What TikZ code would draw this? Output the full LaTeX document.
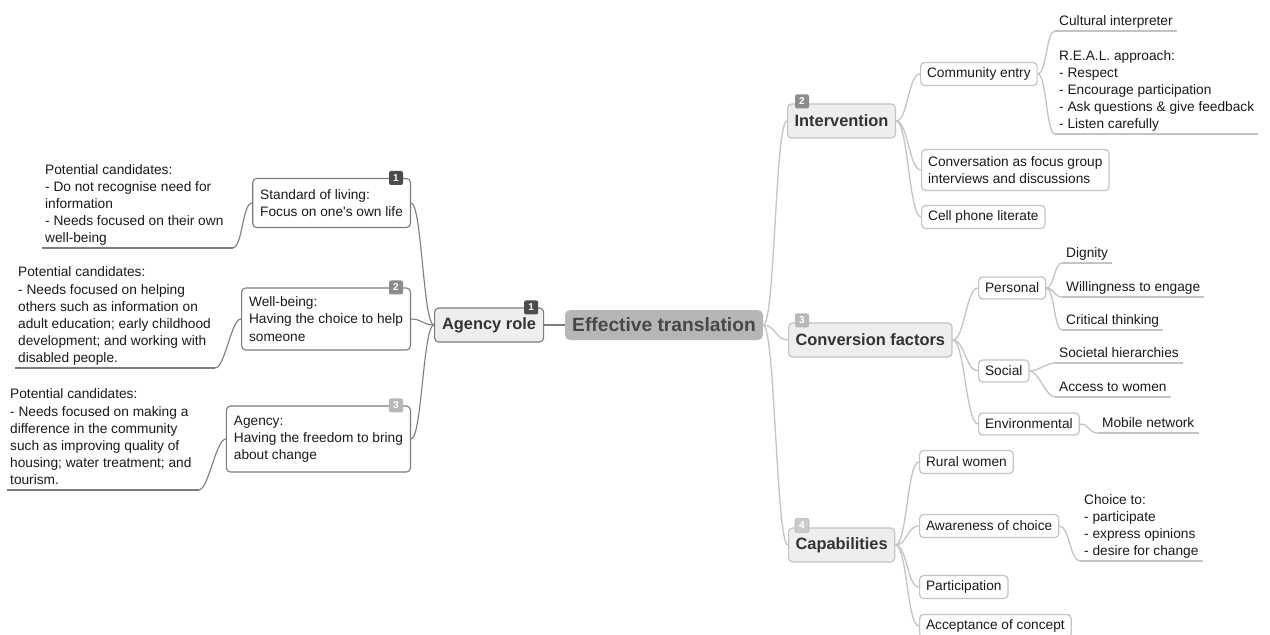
\documentclass[tikz,border=0pt]{standalone}
\usepackage{fontspec}
\setmainfont{Liberation Sans}
\usetikzlibrary{calc}
\definecolor{txt}{HTML}{1A1A1A}
\definecolor{linedark}{HTML}{7C7C7C}
\definecolor{linelight}{HTML}{C4C4C4}
\definecolor{branchfill}{HTML}{EEEEEE}
\definecolor{branchtext}{HTML}{333333}
\definecolor{centerfill}{HTML}{B6B6B6}
\definecolor{centertext}{HTML}{474747}
\definecolor{bdark}{HTML}{4C4C4C}
\definecolor{bmid}{HTML}{8C8C8C}
\definecolor{blight}{HTML}{B8B8B8}
\definecolor{bpale}{HTML}{CACACA}
\begin{document}
\begin{tikzpicture}[x=1pt,y=-1pt,
  every node/.style={font=\fontsize{13.7}{17.2}\selectfont, text=txt},
  lbox/.style={draw=linedark, line width=1.1pt, rounded corners=4pt, fill=white,
    align=left, inner xsep=7.5pt, inner ysep=4pt, anchor=east},
  rbox/.style={draw=linelight, line width=1.2pt, rounded corners=4pt, fill=white,
    align=left, inner xsep=6.5pt, inner ysep=4pt, minimum height=23pt, anchor=west},
  lbranch/.style={draw=linedark, line width=1.1pt, fill=branchfill, rounded corners=4pt,
    font=\fontsize{16.4}{19}\selectfont\bfseries, text=branchtext,
    minimum height=34pt, minimum width=109pt, anchor=west},
  rbranch/.style={draw=linelight, line width=1.2pt, fill=branchfill, rounded corners=4pt,
    font=\fontsize{16.4}{19}\selectfont\bfseries, text=branchtext,
    minimum height=34pt, inner xsep=7pt, anchor=west},
  centre/.style={fill=centerfill, rounded corners=5pt,
    font=\fontsize{19.2}{22}\selectfont\bfseries, text=centertext,
    minimum width=198pt, minimum height=30pt},
  leaf/.style={align=left, inner xsep=3pt, inner ysep=2pt, text depth=3pt, anchor=south west},
  lconn/.style={draw=linedark, line width=1.1pt},
  rconn/.style={draw=linelight, line width=1.3pt},
  badge/.style={fill=#1, rounded corners=2pt, minimum size=14pt, inner sep=0pt,
    text=white, font=\fontsize{10}{10}\selectfont\bfseries},
]
\useasboundingbox[fill=white] (0,0) rectangle (1270,635);

% ---------- centre and left-hand branch ----------
\node[centre] (et) at (664,325) {Effective translation};
\node[lbranch] (ar) at (434,325) {Agency role};
\node[badge=bdark] (bar) at ([xshift=-13pt]ar.north east) {1};

\node[lbox, minimum height=49pt] (sl) at (411,203) {Standard of living:\\Focus on one\textquotesingle s own life};
\node[lbox, minimum height=62pt] (wb) at (411,319) {Well-being:\\Having the choice to help\\someone};
\node[lbox, minimum height=66pt] (ag) at (411,439) {Agency:\\Having the freedom to bring\\about change};
\node[badge=bdark] (bsl) at ([xshift=-15pt]sl.north east) {1};
\node[badge=bmid] (bwb) at ([xshift=-15pt]wb.north east) {2};
\node[badge=blight] (bag) at ([xshift=-15pt]ag.north east) {3};

\node[leaf] (lf1) at (42,248) {Potential candidates:\\- Do not recognise need for\\information\\- Needs focused on their own\\well-being};
\node[leaf] (lf2) at (15,368) {Potential candidates:\\- Needs focused on helping\\others such as information on\\adult education; early childhood\\development; and working with\\disabled people.};
\node[leaf] (lf3) at (7,490) {Potential candidates:\\- Needs focused on making a\\difference in the community\\such as improving quality of\\housing; water treatment; and\\tourism.};
\coordinate (lf1u) at ([xshift=6pt]lf1.south east);
\coordinate (lf2u) at ([xshift=1pt]lf2.south east);
\coordinate (lf3u) at ([xshift=4pt]lf3.south east);

\draw[lconn] (ar) -- (et);
\foreach \c in {sl,wb,ag}
  \draw[lconn] (ar.west) .. controls +(-11,0) and +(11,0) .. (\c.east);
\foreach \u/\c in {lf1/sl,lf2/wb,lf3/ag}{
  \draw[lconn] (\u.south west) -- (\u u);
  \draw[lconn] (\u u) .. controls +(10,0) and +(-10,0) .. (\c.west);
}

% ---------- right-hand branches ----------
\node[rbranch] (iv) at (787,121) {Intervention};
\node[rbranch] (cf) at (788,340) {Conversion factors};
\node[rbranch] (cp) at (788,545) {Capabilities};
\node[badge=bmid] (biv) at ([xshift=15pt,yshift=2pt]iv.north west) {2};
\node[badge=blight] (bcf) at ([xshift=14pt,yshift=2pt]cf.north west) {3};
\node[badge=bpale, draw=blight, line width=0.6pt] (bcp) at ([xshift=14pt,yshift=2pt]cp.north west) {4};

% Intervention
\node[rbox] (ce) at (920,74) {Community entry};
\node[rbox, minimum height=41pt] (cv) at (921,170) {Conversation as focus group\\interviews and discussions};
\node[rbox] (cl) at (921,217) {Cell phone literate};
\node[leaf, inner xsep=4pt] (ci) at (1055,31) {Cultural interpreter};
\node[leaf, inner xsep=4pt] (re) at (1055,134) {R.E.A.L. approach:\\- Respect\\- Encourage participation\\- Ask questions \& give feedback\\- Listen carefully};

% Conversion factors
\node[rbox, minimum height=22pt] (pe) at (978,288) {Personal};
\node[rbox, minimum height=22pt] (so) at (978,371) {Social};
\node[rbox, minimum height=22pt] (en) at (978,424) {Environmental};
\node[leaf, inner xsep=4pt] (dg) at (1062,263) {Dignity};
\node[leaf, inner xsep=4pt] (wi) at (1062,297) {Willingness to engage};
\node[leaf, inner xsep=4pt] (ct) at (1062,330) {Critical thinking};
\node[leaf, inner xsep=4pt] (sh) at (1055,363) {Societal hierarchies};
\node[leaf, inner xsep=4pt] (aw) at (1055,397) {Access to women};
\node[leaf, inner xsep=4pt] (mn) at (1098,433) {Mobile network};

% Capabilities
\node[rbox] (rw) at (919,462) {Rural women};
\node[rbox] (ac) at (919,526) {Awareness of choice};
\node[rbox] (pa) at (919,587) {Participation};
\node[rbox] (acc) at (919,626) {Acceptance of concept};
\node[leaf, inner xsep=4pt] (ch) at (1080,561) {Choice to:\\- participate\\- express opinions\\- desire for change};

% underlines of the right-hand leaves
\foreach \l in {ci,re,dg,wi,ct,sh,aw,mn,ch}
  \draw[rconn] (\l.south west) -- (\l.south east);

% connectors
\foreach \a/\b/\h in {et.east/iv.west/12, et.east/cf.west/12, et.east/cp.west/12,
    iv.east/ce.west/12, iv.east/cv.west/12, iv.east/cl.west/12,
    ce.east/ci.south west/9, ce.east/re.south west/9,
    cf.east/pe.west/12, cf.east/so.west/12, cf.east/en.west/12,
    pe.east/dg.south west/8, pe.east/wi.south west/8, pe.east/ct.south west/8,
    so.east/sh.south west/9, so.east/aw.south west/9,
    en.east/mn.south west/10,
    cp.east/rw.west/12, cp.east/ac.west/12, cp.east/pa.west/12, cp.east/acc.west/12,
    ac.east/ch.south west/10}
  \draw[rconn] (\a) .. controls +(\h,0) and +(-\h,0) .. (\b);
\end{tikzpicture}
\end{document}
